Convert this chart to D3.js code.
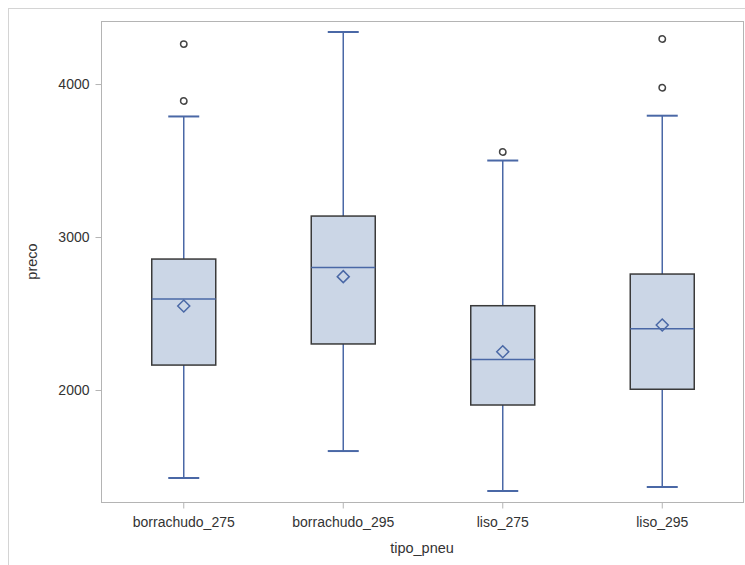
<!DOCTYPE html>
<html>
<head>
<meta charset="utf-8">
<script src="https://cdn.jsdelivr.net/npm/d3@7"></script>
<style>
  body { margin: 0; background: #fff; }
  text { font-family: "Liberation Sans", Arial, sans-serif; fill: #333; }
</style>
</head>
<body>
<svg id="chart" width="745" height="565"></svg>
<script>
// Box statistics (preco by tipo_pneu).
const categories = ['borrachudo_275', 'borrachudo_295', 'liso_275', 'liso_295'];
const whiskerLow = [1425, 1601, 1340, 1366];
const q1 = [2163, 2301, 1902, 2005];
const median = [2595, 2800, 2200, 2400];
const q3 = [2856, 3137, 2551, 2758];
const whiskerHigh = [3788, 4340, 3500, 3793];
const mean = [2549, 2741, 2250, 2425];
const outliers = [[3889, 4261], [], [3556], [3976, 4294]];
const yTicks = [2000, 3000, 4000];

const svg = d3.select('#chart');
const plot = {left: 101, top: 21, right: 743, bottom: 502};

// Outer frame of the graph.
svg.append('rect')
    .attr('x', 8.5).attr('y', 8.5)
    .attr('width', 760).attr('height', 580)
    .attr('fill', 'none').attr('stroke', '#d4d4d4');

const x = d3.scaleBand()
    .domain(categories)
    .range([104, 742]);

const y = d3.scaleLinear()
    .domain([1268, 4412])
    .range([plot.bottom, plot.top]);

const boxWidth = 64;
const capWidth = 31;
const blue = '#4a68a6';

// Plot frame.
svg.append('rect')
    .attr('x', plot.left + 0.5).attr('y', plot.top + 0.5)
    .attr('width', plot.right - plot.left).attr('height', plot.bottom - plot.top)
    .attr('fill', 'none').attr('stroke', '#b4b4b4');

// Axes with short outward ticks.
const yAxis = svg.append('g')
    .attr('transform', 'translate(' + (plot.left + 0.5) + ',0)')
    .call(d3.axisLeft(y).tickValues(yTicks).tickSize(6).tickPadding(6)
        .tickFormat(d3.format('d')));
const xAxis = svg.append('g')
    .attr('transform', 'translate(0,' + (plot.bottom + 0.5) + ')')
    .call(d3.axisBottom(x).tickSize(6).tickPadding(9));

[yAxis, xAxis].forEach((g) => {
  g.select('.domain').remove();
  g.selectAll('.tick line').attr('stroke', '#b4b4b4');
  g.selectAll('.tick text')
      .attr('font-size', 14)
      .attr('font-family', '"Liberation Sans", Arial, sans-serif')
      .attr('fill', '#333');
});

svg.append('text')
    .attr('x', (plot.left + plot.right) / 2).attr('y', 553)
    .attr('text-anchor', 'middle').attr('font-size', 14.5)
    .text('tipo_pneu');

svg.append('text')
    .attr('transform', 'translate(37,' + ((plot.top + plot.bottom) / 2) + ') rotate(-90)')
    .attr('text-anchor', 'middle').attr('font-size', 14.5)
    .text('preco');

const groups = svg.append('g').selectAll('g')
    .data(categories)
    .join('g')
    .attr('transform', (d) => 'translate(' + (x(d) + x.bandwidth() / 2) + ',0)');

// Whiskers with caps.
groups.append('line')
    .attr('x1', 0).attr('x2', 0)
    .attr('y1', (d, i) => y(whiskerLow[i])).attr('y2', (d, i) => y(whiskerHigh[i]))
    .attr('stroke', blue).attr('stroke-width', 1.5);
[whiskerLow, whiskerHigh].forEach((arr) => {
  groups.append('line')
      .attr('x1', -capWidth / 2).attr('x2', capWidth / 2)
      .attr('y1', (d, i) => y(arr[i])).attr('y2', (d, i) => y(arr[i]))
      .attr('stroke', blue).attr('stroke-width', 2);
});

// Boxes.
groups.append('rect')
    .attr('x', -boxWidth / 2).attr('width', boxWidth)
    .attr('y', (d, i) => y(q3[i]))
    .attr('height', (d, i) => y(q1[i]) - y(q3[i]))
    .attr('fill', '#cbd6e6').attr('stroke', '#3a3a3a').attr('stroke-width', 1.5);

// Median line.
groups.append('line')
    .attr('x1', -boxWidth / 2).attr('x2', boxWidth / 2)
    .attr('y1', (d, i) => y(median[i])).attr('y2', (d, i) => y(median[i]))
    .attr('stroke', blue).attr('stroke-width', 1.5);

// Mean diamond.
groups.append('path')
    .attr('d', 'M0,-6L6,0L0,6L-6,0Z')
    .attr('transform', (d, i) => 'translate(0,' + y(mean[i]) + ')')
    .attr('fill', 'none').attr('stroke', blue).attr('stroke-width', 1.5);

// Outliers.
groups.selectAll('circle')
    .data((d, i) => outliers[i])
    .join('circle')
    .attr('cx', 0).attr('cy', (v) => y(v))
    .attr('r', 3.2)
    .attr('fill', 'none').attr('stroke', '#444').attr('stroke-width', 1.5);
</script>
</body>
</html>
